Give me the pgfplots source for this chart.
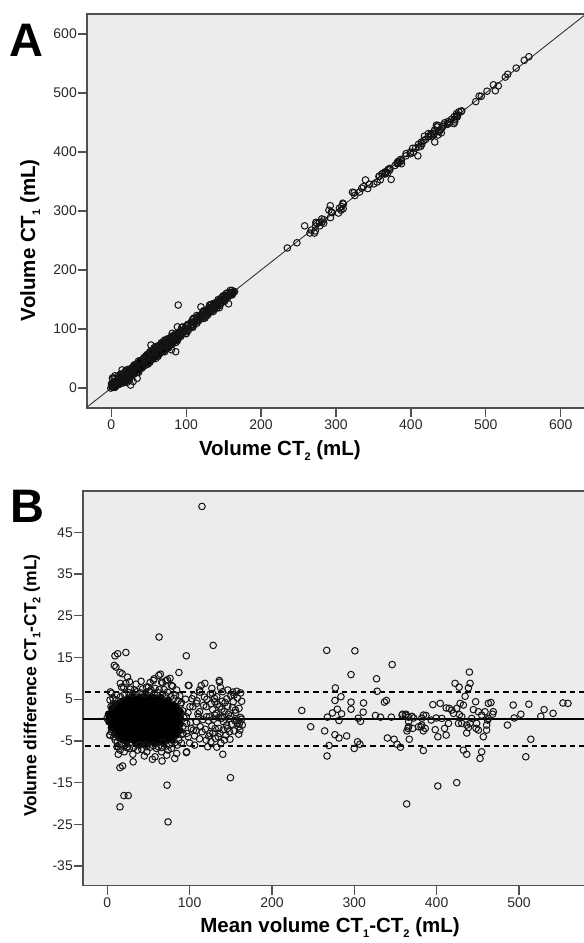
\documentclass[border=0pt]{standalone}
\usepackage{fontspec}
\setmainfont{Liberation Sans}
\usepackage{pgfplots}
\pgfplotsset{compat=1.18}
\usepackage{pgfplotstable}

\definecolor{panelbg}{RGB}{236,236,236}
\definecolor{framegray}{RGB}{80,80,80}
\definecolor{ticktext}{RGB}{40,40,40}

% small, lowered subscript as in the SPSS labels
\newcommand\sub[1]{\raisebox{-0.45ex}{\fontsize{11}{12}\selectfont #1}}

% open circles: (mean, difference) of the two CT volumes
\pgfplotstableread[row sep=\\]{
m d\\
115 51.2\\ 62.9 19.9\\ 128.6 17.9\\ 9.3 15.4\\ 12.6 15.9\\ 22.6 16.2\\ 96 15.4\\
8.5 13.1\\ 10.5 12.7\\ 15.4 11.4\\ 18.1 11.1\\ 24.6 10.3\\ 87 11.4\\ 62.5 10.7\\
64.5 11.0\\ 56.8 9.9\\ 73 9.7\\ 136 9.5\\ 17.4 7.9\\ 22.6 8.8\\ 47.6 7.9\\ 67 8.9\\
77.9 8.3\\ 99.2 8.3\\ 114.1 8.3\\ 127 7.6\\ 136.3 9.1\\ 137.5 7.8\\ 146.3 7.2\\
152.4 6.7\\ 157.2 6.9\\ 163.2 4.5\\ 112 7.2\\ 3.3 4.8\\ 5.3 6.4\\ 11.4 6.0\\
120.2 3.2\\ 130.2 5.2\\ 139.5 4.5\\ 146.3 3.3\\ 153.9 6.0\\ 155.6 2.4\\ 104 3.2\\
112.1 2.0\\ 96 0.8\\ 102.1 -2.0\\ 92 -3.2\\ 98.3 -4.0\\ 108.1 -0.4\\ 116.1 0.1\\
124.2 0.8\\ 132.3 1.6\\ 140.3 0.8\\ 148.4 0.4\\ 120.2 -4.8\\ 123.3 -3.85\\
131.4 -4.4\\ 142.3 -4.8\\ 128.2 -3.1\\ 135.4 -2.0\\ 148.4 -2.8\\ 159.6 -3.4\\
160.5 -0.8\\ 159.6 -1.6\\ 85.1 -6.0\\ 59.7 -6.8\\ 65.8 -7.6\\ 73.8 -7.2\\
47.6 -6.4\\ 39.5 -6.0\\ 3.3 -3.6\\ 13.3 -6.4\\ 13.3 -8.2\\ 20.6 -7.6\\ 24.7 -6.4\\
31.4 -10\\ 15.4 -11.4\\ 18.6 -11\\ 20.2 -18.1\\ 25.4 -18.1\\ 15.4 -20.8\\
72.6 -15.6\\ 73.8 -24.4\\ 54.8 -9.4\\ 66.5 -9.8\\ 81.9 -9.2\\ 96 -7.8\\
140.3 -8.2\\ 149.6 -13.8\\
71.3 9.4\\ 76.2 10.0\\ 56 9.5\\ 66 9.1\\ 15.8 8.8\\ 19.8 7.9\\ 50 7.9\\ 58 7.6\\
69 7.3\\ 79.4 8.1\\ 84.3 7.2\\ 98.4 8.3\\ 118.5 8.8\\ 112.5 6.7\\ 127.8 6.4\\
3.7 6.75\\ 6.9 5.2\\ 4.5 3.2\\ -0.4 0.4\\ 2.9 -3.6\\ 9.7 -4.8\\ 11.7 -6.4\\
15.7 -7.2\\ 23.8 -6.6\\ 58 -8.8\\ 72.2 -8.4\\ 84.3 -8.0\\ 96.4 -7.6\\
96.4 -0.8\\ 96.4 -3.2\\ 104.5 -2.4\\ 108.5 4.0\\ 100.4 3.2\\ 120.6 0.8\\
130.6 1.2\\ 138.7 0.4\\ 124.5 -3.2\\ 134.7 -4.0\\ 140.7 -2.4\\ 130.6 4.4\\
136.6 3.2\\ 150 1.0\\ 155 -0.2\\ 162 0.6\\ 145 -1.2\\ 110 1.5\\ 118 5.5\\
125 6.2\\ 105 5.8\\ 95 5.0\\ 100 -5.5\\ 106 -6.0\\ 115 -2.8\\ 122 -6.4\\
133 -6.5\\ 145 5.1\\ 150 5.8\\ 158 5.3\\ 162 6.5\\ 140 6.8\\ 128 2.5\\
134 3.8\\ 142 2.0\\ 152 3.0\\ 157 0.0\\ 161 -2.4\\ 144 -3.6\\ 138 -5.5\\
126 -5.2\\ 112 -4.5\\ 108 -2.5\\ 90 4.2\\ 92 -1.5\\ 88 5.8\\ 90 -5.5\\
5 -2.8\\ 7 3.9\\ 8 -4.0\\ 11 4.8\\ 12 -5.3\\ 16 5.6\\ 17 -5.8\\ 21 6.2\\
22 -6.0\\ 26 6.6\\ 27 -6.8\\ 28 7.4\\ 31 6.4\\ 32 -6.6\\ 33 7.2\\ 36 6.8\\
37 -7.2\\ 38 -6.0\\ 41 6.5\\ 42 -7.0\\ 43 7.5\\ 46 6.3\\ 47 -5.9\\ 48 -7.6\\
51 6.9\\ 52 -6.5\\ 53 7.2\\ 56 -6.1\\ 57 6.4\\ 61 6.6\\ 62 -6.4\\ 63 7.3\\
66 -6.6\\ 67 6.2\\ 68 -5.4\\ 71 5.8\\ 72 -6.2\\ 73 6.7\\ 76 -5.8\\ 77 5.6\\
78 -6.8\\ 81 5.2\\ 82 -5.4\\ 83 6.0\\ 86 4.6\\ 87 -4.8\\ 89 3.8\\ 91 -3.4\\
92 2.2\\ 93 0.6\\ 31 -8.2\\ 45 -8.6\\ 35 8.6\\ 52 9.0\\ 41 9.3\\ 27 9.2\\
98 1.8\\ 101 -0.6\\ 103 5.1\\ 106 -3.8\\ 109 4.6\\ 111 0.8\\ 113 -1.6\\
117 3.5\\ 119 -2.2\\ 121 5.0\\ 123 -0.2\\ 126 3.9\\ 127 -1.4\\ 129 0.2\\
131 -2.0\\ 133 5.6\\ 135 0.6\\ 137 -3.2\\ 139 2.6\\ 141 -0.4\\ 143 4.2\\
146 -2.0\\ 147 1.4\\ 149 -4.6\\ 151 -1.0\\ 153 4.4\\ 154 -2.6\\ 156 1.8\\
158 -0.8\\ 160 2.8\\ 163 0.2\\ 164 -1.2\\
266.5 16.7\\ 300.7 16.6\\ 346 13.3\\ 296 10.9\\ 327 9.9\\ 277 7.7\\ 327.7 6.9\\
276.5 4.7\\ 283.8 5.6\\ 296 4.3\\ 311.2 4.1\\ 336.6 4.3\\ 339 4.7\\ 236.2 2.3\\
279.4 2.6\\ 296 2.6\\ 273.4 1.7\\ 284.6 1.5\\ 310.8 1.9\\ 267.3 0.7\\ 281.4 -0.1\\
304.8 0.45\\ 307.6 -0.3\\ 325.7 1.1\\ 331.8 0.7\\ 345 0.7\\ 358 1.2\\ 362.8 1.4\\
366 0.7\\ 372 0.5\\ 382 0.45\\ 387 1.1\\ 247 -1.6\\ 264 -2.6\\ 276.5 -3.5\\
281.4 -4.3\\ 290.7 -3.8\\ 269.3 -6.1\\ 266.9 -8.6\\ 304 -5.2\\ 306.8 -5.8\\
299.9 -6.8\\ 340.2 -4.3\\ 348.3 -4.6\\ 352 -5.8\\ 356 -6.5\\ 366.8 -4.6\\
364 -2.6\\ 366 -1.6\\ 370.9 -2.0\\ 383.8 -2.6\\ 383.8 -7.3\\ 363.6 -20.1\\
381 -1.6\\
439.8 11.5\\ 422.4 8.8\\ 427.3 7.9\\ 440.6 8.8\\ 438.6 7.7\\ 434.6 5.7\\
395.4 3.7\\ 404.3 4.0\\ 411.6 2.9\\ 415.2 2.8\\ 428.5 4.0\\ 432.5 3.6\\
447.4 4.4\\ 462.8 4.0\\ 466 4.2\\ 493 3.6\\ 512 3.8\\ 553.4 4.1\\ 559.5 4.0\\
530.5 2.5\\ 502.3 1.4\\ 541.4 1.6\\ 526.5 0.9\\ 494.2 0.5\\ 486 -1.2\\
514.4 -4.6\\ 508.3 -8.8\\ 452.7 -9.2\\ 454.7 -7.6\\ 432.5 -7.2\\ 436.5 -8.2\\
401.4 -15.8\\ 424.4 -15.0\\ 398.3 -2.3\\ 401.5 -4.0\\ 411.6 -3.6\\ 409.6 -2.0\\
414.4 -0.8\\ 426.5 -0.8\\ 427.7 1.3\\ 436.5 -1.2\\ 438.6 -1.8\\ 436.5 -3.1\\
450.7 -2.4\\ 448.6 -0.8\\ 460.7 -2.4\\ 456.7 -4.0\\ 450.7 2.0\\ 458.7 2.0\\
468 1.4\\ 462.8 0.4\\ 418.4 2.4\\ 420.4 1.6\\ 406.3 0.4\\ 399.5 0.5\\ 382 -1.2\\
386.2 -2.0\\ 378 -1.6\\ 370 0.9\\ 362 1.2\\ 358.7 1.4\\ 366 -0.4\\ 365.2 -2.0\\
384 1.2\\ 393.4 0.0\\ 442.6 0.4\\ 430.5 0.8\\ 424.4 2.8\\ 430.5 -0.8\\
444.6 2.5\\ 454.7 1.2\\ 460.7 -1.2\\ 440.6 -0.8\\ 447.9 -2.0\\ 461.9 0.0\\
468.8 2.0\\
}\sparse

% the dense, fully overlapping part of the cloud
\pgfplotstableread[row sep=\\]{
m d\\
2 -0.4\\ 2.5 0.6\\ 1.5 1.4\\
5 -1.8\\ 6 -0.6\\ 5 0.6\\ 6 1.8\\ 5.5 2.8\\
9 -3.2\\ 10 -2\\ 9 -0.8\\ 10 0.4\\ 9 1.6\\ 10 2.8\\ 9.5 3.8\\
14 -4.2\\ 15 -3\\ 14 -1.8\\ 15 -0.6\\ 14 0.6\\ 15 1.8\\ 14 3\\ 15 4.2\\
19 -4.8\\ 20 -3.6\\ 19 -2.4\\ 20 -1.2\\ 19 0\\ 20 1.2\\ 19 2.4\\ 20 3.6\\ 19 4.6\\
24 -5.0\\ 25 -4\\ 24 -2.8\\ 25 -1.6\\ 24 -0.4\\ 25 0.8\\ 24 2\\ 25 3.2\\ 24 4.4\\ 25 5.2\\
29 -4.6\\ 30 -3.8\\ 29 -2.6\\ 30 -1.4\\ 29 -0.2\\ 30 1.0\\ 29 2.2\\ 30 3.4\\ 29 4.6\\ 30 5.6\\
34 -5.4\\ 35 -4.2\\ 34 -3\\ 35 -1.8\\ 34 -0.6\\ 35 0.6\\ 34 1.8\\ 35 3\\ 34 4.2\\ 35 5.0\\
39 -5.6\\ 40 -4.4\\ 39 -3.2\\ 40 -2\\ 39 -0.8\\ 40 0.4\\ 39 1.6\\ 40 2.8\\ 39 4\\ 40 5.4\\
44 -5.0\\ 45 -4\\ 44 -2.8\\ 45 -1.6\\ 44 -0.4\\ 45 0.8\\ 44 2\\ 45 3.2\\ 44 4.4\\ 45 5.6\\
49 -5.6\\ 50 -4.2\\ 49 -3\\ 50 -1.8\\ 49 -0.6\\ 50 0.6\\ 49 1.8\\ 50 3\\ 49 4.2\\ 50 5.2\\
54 -5.2\\ 55 -4.4\\ 54 -3.2\\ 55 -2\\ 54 -0.8\\ 55 0.4\\ 54 1.6\\ 55 2.8\\ 54 4\\ 55 5.5\\
59 -5.6\\ 60 -4\\ 59 -2.8\\ 60 -1.6\\ 59 -0.4\\ 60 0.8\\ 59 2\\ 60 3.2\\ 59 4.4\\ 60 5.2\\
64 -5.0\\ 65 -4.2\\ 64 -3\\ 65 -1.8\\ 64 -0.6\\ 65 0.6\\ 64 1.8\\ 65 3\\ 64 4.2\\ 65 5.4\\
69 -5.2\\ 70 -3.8\\ 69 -2.6\\ 70 -1.4\\ 69 -0.2\\ 70 1\\ 69 2.2\\ 70 3.4\\ 69 4.4\\
74 -4.6\\ 75 -3.6\\ 74 -2.4\\ 75 -1.2\\ 74 0\\ 75 1.2\\ 74 2.4\\ 75 3.6\\ 74 4.8\\
79 -4.8\\ 80 -3.2\\ 79 -2\\ 80 -0.8\\ 79 0.4\\ 80 1.6\\ 79 2.8\\ 80 3.6\\
84 -3.6\\ 85 -2.6\\ 84 -1.4\\ 85 -0.2\\ 84 1\\ 85 2.2\\ 84 3.0\\
88 -2.5\\ 88.5 -1\\ 88 0.5\\ 88.5 2\\
}\dense

\pgfplotsset{
  spss/.style={
    scale only axis,
    axis background/.style={fill=panelbg},
    axis line style={draw=framegray, line width=1.3pt},
    tick align=outside,
    tick pos=left,
    major tick length=9pt,
    tick style={draw=framegray, line width=1.3pt},
    tick label style={font=\fontsize{14}{16}\selectfont, text=ticktext},
    yticklabel style={inner sep=1pt},
    xticklabel style={inner sep=2.5pt},
    /pgf/number format/assume math mode=true,
    label style={font=\bfseries\fontsize{20.5}{24}\selectfont, anchor=center},
  },
  ring/.style={only marks, mark=o, mark size=3.3pt,
    mark options={draw=black!92, line width=1pt}},
  blob/.style={only marks, mark=*, mark size=3.3pt,
    mark options={draw=black, fill=black, line width=1pt}},
}

\begin{document}
\begin{tikzpicture}
\useasboundingbox (0pt,0pt) rectangle (584pt,-943pt);

% A: CT1 against CT2
\begin{axis}[
    spss,
    at={(87pt,-408pt)}, anchor=south west,
    width=498.5pt, height=394pt,
    xmin=-32.4, xmax=633.1,
    ymin=-33.9, ymax=633.9,
    xtick={0,100,...,600},
    ytick={0,100,...,600},
    xlabel={Volume CT\sub{2} (mL)},
    ylabel={Volume CT\sub{1} (mL)},
    xlabel style={at={(axis description cs:0.387,-0.109)}},
    ylabel style={at={(axis description cs:-0.114,0.426)}},
]
\addplot[draw=black!80, line width=0.9pt] coordinates {(-50,-50) (700,700)};
\addplot[blob] table[x expr=\thisrow{m}-0.5*\thisrow{d}, y expr=\thisrow{m}+0.5*\thisrow{d}] {\dense};
\addplot[ring] table[x expr=\thisrow{m}-0.5*\thisrow{d}, y expr=\thisrow{m}+0.5*\thisrow{d}] {\sparse};
\end{axis}

% B: Bland-Altman
\begin{axis}[
    spss,
    at={(83pt,-885.7pt)}, anchor=south west,
    width=502.5pt, height=394.7pt,
    xmin=-29.5, xmax=580.8,
    ymin=-39.7, ymax=54.9,
    xtick={0,100,...,500},
    ytick={-35,-25,...,45},
    xlabel={Mean volume CT\sub{1}-CT\sub{2} (mL)},
    ylabel={Volume difference CT\sub{1}-CT\sub{2} (mL)},
    xlabel style={at={(axis description cs:0.4915,-0.107)}},
    ylabel style={at={(axis description cs:-0.1015,0.507)}, font=\bfseries\fontsize{17.5}{20}\selectfont},
]
\addplot[blob] table[x=m, y=d] {\dense};
\addplot[ring] table[x=m, y=d] {\sparse};
\addplot[draw=black, line width=2.5pt] coordinates {(-50,0.25) (700,0.25)};
\addplot[draw=black, line width=2pt, dash pattern=on 5.5pt off 4pt] coordinates {(-50,6.75) (700,6.75)};
\addplot[draw=black, line width=2pt, dash pattern=on 5.5pt off 4pt] coordinates {(-50,-6.25) (700,-6.25)};
\end{axis}

\node[font=\bfseries\fontsize{47}{50}\selectfont, inner sep=0pt] at (26.5pt,-40pt) {A};
\node[font=\bfseries\fontsize{47}{50}\selectfont, inner sep=0pt] at (27.5pt,-506.5pt) {B};
\end{tikzpicture}
\end{document}
